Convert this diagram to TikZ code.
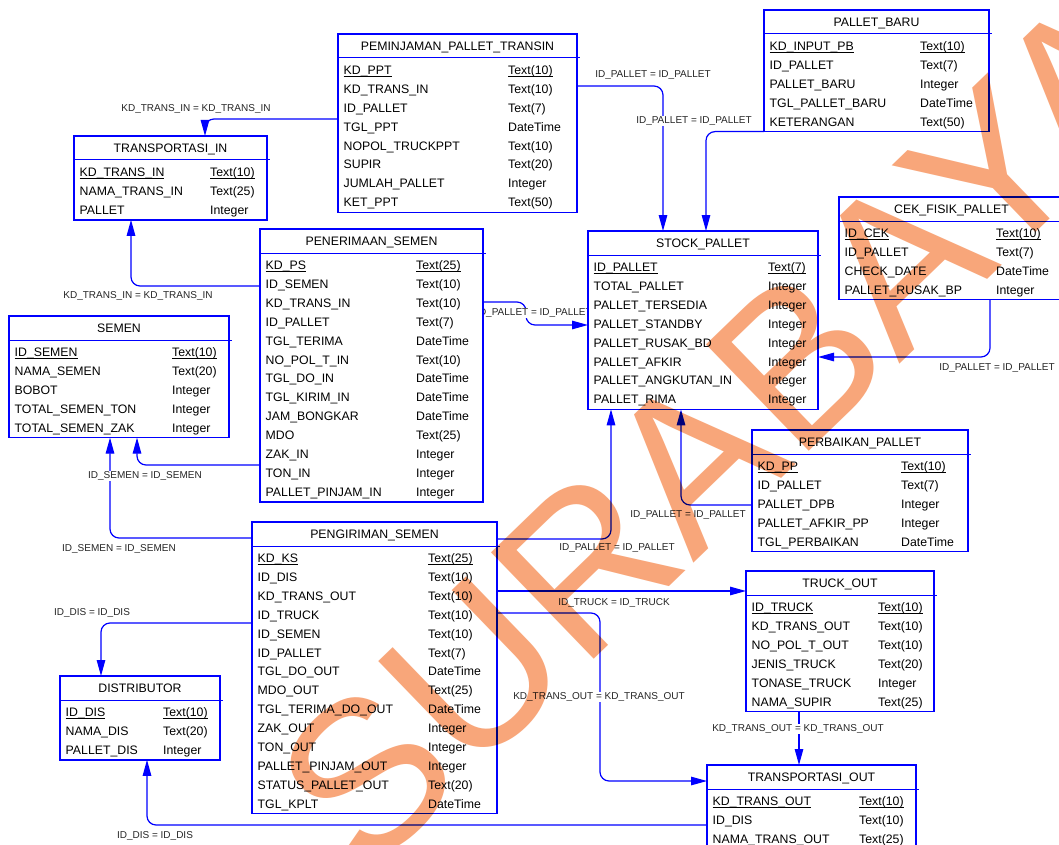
\documentclass[tikz,border=0pt]{standalone}
\usepackage{fontspec}
\setmainfont{Liberation Sans}
\usetikzlibrary{arrows.meta,calc}

\definecolor{erblue}{RGB}{0,0,255}
\definecolor{wmorange}{RGB}{248,166,122}

\pgfdeclarelayer{back}
\pgfdeclarelayer{front}
\pgfsetlayers{back,main,front}

% underline used for primary-key columns
\newcommand\pkul[1]{\setbox0\hbox{#1}\rlap{\rule[-2.2pt]{\wd0}{0.75pt}}\box0}

\tikzset{
  tblbox/.style={draw=erblue, line width=1.4pt, fill=white, inner sep=0pt, outer sep=0pt},
  hdrline/.style={draw=erblue, line width=1pt},
  tbltitle/.style={anchor=base, inner sep=0pt, font=\fontsize{12.3}{14}\selectfont, text=black},
  coltext/.style={anchor=base west, inner sep=0pt, font=\fontsize{12.3}{14}\selectfont, text=black},
  fk/.style={draw=erblue, line width=1.2pt, rounded corners=9pt, -{Triangle[length=16pt,width=8.5pt]}},
  rellabel/.style={fill=white, inner sep=1pt, font=\fontsize{10}{12}\selectfont, text=black!85},
}

% #1 name, #2 left, #3 top, #4 right, #5 type column x, #6 rows, #7 title, #8 columns
\newcommand\ertable[8]{%
  \node[tblbox, anchor=north west, minimum width={(#4-#2)*1pt},
        minimum height={(46+18.9*(#6-1))*1pt}] (#1) at (#2,#3) {};
  \draw[hdrline] (#2,#3+24) -- (#4+3,#3+24);
  \node[tbltitle] (#1-title) at ({(#2+#4)/2},{#3+16.5}) {#7};
  \foreach \nm/\ty [count=\k from 0] in {#8}{
    \node[coltext] (#1-n\k) at (#2+5.5,{#3+40.5+18.9*\k}) {\ifnum\k=0 \pkul{\nm}\else\nm\fi};
    \node[coltext] (#1-t\k) at (#5,{#3+40.5+18.9*\k}) {\ifnum\k=0 \pkul{\ty}\else\ty\fi};
  }%
}

\begin{document}
\begin{tikzpicture}[x=1pt,y=-1pt]
\useasboundingbox (0,0) rectangle (1059,845);

% ---------------- entities ----------------
\ertable{peminjaman}{338}{34}{577}{508}{8}{PEMINJAMAN\_PALLET\_TRANSIN}{
  KD\_PPT/Text(10), KD\_TRANS\_IN/Text(10), ID\_PALLET/Text(7), TGL\_PPT/DateTime,
  NOPOL\_TRUCKPPT/Text(10), SUPIR/Text(20), JUMLAH\_PALLET/Integer, KET\_PPT/Text(50)}

\ertable{palletbaru}{764}{10}{989}{920}{5}{PALLET\_BARU}{
  KD\_INPUT\_PB/Text(10), ID\_PALLET/Text(7), PALLET\_BARU/Integer,
  TGL\_PALLET\_BARU/DateTime, KETERANGAN/Text(50)}

\ertable{transin}{74}{136}{267}{210}{3}{TRANSPORTASI\_IN}{
  KD\_TRANS\_IN/Text(10), NAMA\_TRANS\_IN/Text(25), PALLET/Integer}

\ertable{semen}{9}{316}{229}{172}{5}{SEMEN}{
  ID\_SEMEN/Text(10), NAMA\_SEMEN/Text(20), BOBOT/Integer,
  TOTAL\_SEMEN\_TON/Integer, TOTAL\_SEMEN\_ZAK/Integer}

\ertable{penerimaan}{260}{229}{483}{416}{13}{PENERIMAAN\_SEMEN}{
  KD\_PS/Text(25), ID\_SEMEN/Text(10), KD\_TRANS\_IN/Text(10), ID\_PALLET/Text(7),
  TGL\_TERIMA/DateTime, NO\_POL\_T\_IN/Text(10), TGL\_DO\_IN/DateTime,
  TGL\_KIRIM\_IN/DateTime, JAM\_BONGKAR/DateTime, MDO/Text(25), ZAK\_IN/Integer,
  TON\_IN/Integer, PALLET\_PINJAM\_IN/Integer}

\ertable{stock}{588}{231}{818}{768}{8}{STOCK\_PALLET}{
  ID\_PALLET/Text(7), TOTAL\_PALLET/Integer, PALLET\_TERSEDIA/Integer,
  PALLET\_STANDBY/Integer, PALLET\_RUSAK\_BD/Integer, PALLET\_AFKIR/Integer,
  PALLET\_ANGKUTAN\_IN/Integer, PALLET\_RIMA/Integer}

\ertable{cek}{839}{197}{1064}{996}{4}{CEK\_FISIK\_PALLET}{
  ID\_CEK/Text(10), ID\_PALLET/Text(7), CHECK\_DATE/DateTime, PALLET\_RUSAK\_BP/Integer}

\ertable{perbaikan}{752}{430}{968}{901}{5}{PERBAIKAN\_PALLET}{
  KD\_PP/Text(10), ID\_PALLET/Text(7), PALLET\_DPB/Integer,
  PALLET\_AFKIR\_PP/Integer, TGL\_PERBAIKAN/DateTime}

\ertable{pengiriman}{252}{522}{497}{428}{14}{PENGIRIMAN\_SEMEN}{
  KD\_KS/Text(25), ID\_DIS/Text(10), KD\_TRANS\_OUT/Text(10), ID\_TRUCK/Text(10),
  ID\_SEMEN/Text(10), ID\_PALLET/Text(7), TGL\_DO\_OUT/DateTime, MDO\_OUT/Text(25),
  TGL\_TERIMA\_DO\_OUT/DateTime, ZAK\_OUT/Integer, TON\_OUT/Integer,
  PALLET\_PINJAM\_OUT/Integer, STATUS\_PALLET\_OUT/Text(20), TGL\_KPLT/DateTime}

\ertable{distributor}{60}{676}{220}{163}{3}{DISTRIBUTOR}{
  ID\_DIS/Text(10), NAMA\_DIS/Text(20), PALLET\_DIS/Integer}

\ertable{truckout}{746}{571}{934}{878}{6}{TRUCK\_OUT}{
  ID\_TRUCK/Text(10), KD\_TRANS\_OUT/Text(10), NO\_POL\_T\_OUT/Text(10),
  JENIS\_TRUCK/Text(20), TONASE\_TRUCK/Integer, NAMA\_SUPIR/Text(25)}

\ertable{transout}{707}{765}{916}{859}{3}{TRANSPORTASI\_OUT}{
  KD\_TRANS\_OUT/Text(10), ID\_DIS/Text(10), NAMA\_TRANS\_OUT/Text(25)}

% ---------------- references ----------------
\begin{pgfonlayer}{back}
  \fill[white] (0,0) rectangle (1059,845);

  \draw[fk] (peminjaman.west |- 0,119) -| (transin.north -| 205,0);
  \draw[fk] (penerimaan.west |- 0,286) -| (transin.south -| 131,0);
  \draw[fk] (penerimaan.west |- 0,465) -| (semen.south -| 137,0);
  \draw[fk] (pengiriman.west |- 0,538) -| (semen.south -| 110,0);
  \draw[fk] (pengiriman.west |- 0,623) -| (distributor.north -| 101,0);
  \draw[fk] (transout.west |- 0,825) -| (distributor.south -| 147,0);
  \draw[fk] (peminjaman.east |- 0,86) -| (stock.north -| 663,0);
  \draw[fk] (palletbaru.south west) -| (stock.north -| 706,0);
  \draw[fk] (penerimaan.east |- 0,302) -| (526,325) -- (stock.west |- 0,325);
  \draw[fk] (cek.south -| 990,0) |- (stock.east |- 0,357);
  \draw[fk] (perbaikan.west |- 0,505) -| (stock.south -| 681,0);
  \draw[fk] (pengiriman.east |- 0,539) -| (stock.south -| 611,0);
  \draw[fk] (pengiriman.east |- 0,591) -- (truckout.west |- 0,591);
  \draw[fk] (pengiriman.east |- 0,613) -| (600,781) -- (transout.west |- 0,781);
  \draw[fk] (truckout.south -| 799,0) -- (transout.north -| 799,0);

  \node[rellabel] (r1)  at (196,109) {KD\_TRANS\_IN = KD\_TRANS\_IN};
  \node[rellabel] (r2)  at (138,296) {KD\_TRANS\_IN = KD\_TRANS\_IN};
  \node[rellabel] (r3)  at (145,476) {ID\_SEMEN = ID\_SEMEN};
  \node[rellabel] (r4)  at (119,549) {ID\_SEMEN = ID\_SEMEN};
  \node[rellabel] (r5)  at (92,613)  {ID\_DIS = ID\_DIS};
  \node[rellabel] (r6)  at (155,836) {ID\_DIS = ID\_DIS};
  \node[rellabel] (r7)  at (653,75)  {ID\_PALLET = ID\_PALLET};
  \node[rellabel] (r8)  at (694,121) {ID\_PALLET = ID\_PALLET};
  \node[rellabel] (r9)  at (534,313) {ID\_PALLET = ID\_PALLET};
  \node[rellabel] (r10) at (997,368) {ID\_PALLET = ID\_PALLET};
  \node[rellabel] (r11) at (688,515) {ID\_PALLET = ID\_PALLET};
  \node[rellabel] (r12) at (617,548) {ID\_PALLET = ID\_PALLET};
  \node[rellabel] (r13) at (614,603) {ID\_TRUCK = ID\_TRUCK};
  \node[rellabel] (r14) at (599,697) {KD\_TRANS\_OUT = KD\_TRANS\_OUT};
  \node[rellabel] (r15) at (798,729) {KD\_TRANS\_OUT = KD\_TRANS\_OUT};
\end{pgfonlayer}

% ---------------- watermark ----------------
\begin{pgfonlayer}{front}
  \begin{scope}[blend mode=multiply]
    \node[rotate=44, inner sep=0pt, text=wmorange,
          font=\fontsize{215}{215}\selectfont] (wm) at (725,430) {SURABAYA};
  \end{scope}
\end{pgfonlayer}
\end{tikzpicture}
\end{document}
